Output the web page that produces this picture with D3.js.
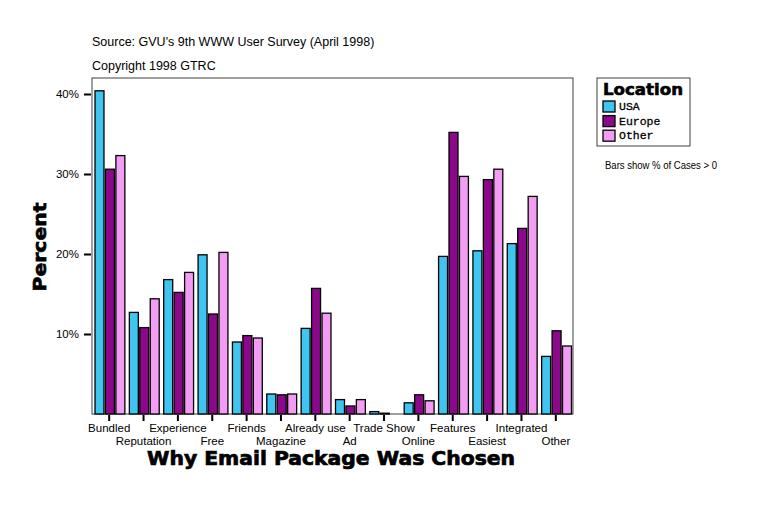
<!DOCTYPE html>
<html>
<head>
<meta charset="utf-8">
<script src="https://cdn.jsdelivr.net/npm/d3@7"></script>
<style>
  body { margin: 0; background: #fff; }
  text { font-family: "Liberation Sans", Arial, sans-serif; }
</style>
</head>
<body>
<script>
// categories along the x axis
var categories = ["Bundled", "Reputation", "Experience", "Free", "Friends", "Magazine",
    "Already use", "Ad", "Trade Show", "Online", "Features", "Easiest", "Integrated", "Other"];

// series (legend order)
var series = ["USA", "Europe", "Other"];

// percent of cases
var usaValues    = [40.4, 12.7, 16.8, 19.9, 9.0, 2.5, 10.7, 1.8, 0.3, 1.4, 19.7, 20.4, 21.3, 7.2];
var europeValues = [30.6, 10.8, 15.2, 12.5, 9.8, 2.4, 15.7, 1.0, 0.1, 2.4, 35.2, 29.3, 23.2, 10.4];
var otherValues  = [32.3, 14.4, 17.7, 20.2, 9.5, 2.5, 12.6, 1.8, 0.0, 1.65, 29.7, 30.6, 27.2, 8.5];

var yTicks = [10, 20, 30, 40];

var colors = ["#40c4f0", "#8b088b", "#f39cf3"];

window.onload = drawChart();

function drawChart(){

    var width = 760,
        height = 506;

    var left = 92, right = 573, top = 78, bottom = 414;

    var svg = d3.select("body")
        .append("svg")
        .attr("width", width)
        .attr("height", height);

    //source lines
    svg.append("text").attr("x", 92).attr("y", 46)
        .style("font-size", "12.5px")
        .text("Source: GVU's 9th WWW User Survey (April 1998)");
    svg.append("text").attr("x", 92).attr("y", 70)
        .style("font-size", "12.5px")
        .text("Copyright 1998 GTRC");

    //scales
    var x0 = d3.scaleBand()
        .domain(categories)
        .range([left, right]);

    var x1 = d3.scaleBand()
        .domain(series)
        .range([3, x0.bandwidth() - 1.5])
        .paddingInner(0.14);

    var y = d3.scaleLinear()
        .domain([0, 42])
        .range([bottom, top]);

    var color = d3.scaleOrdinal()
        .domain(series)
        .range(colors);

    var rows = categories.map(function(c, i){
        return { cat: c, values: [usaValues[i], europeValues[i], otherValues[i]] };
    });

    //frame
    svg.append("rect")
        .attr("x", left).attr("y", top)
        .attr("width", right - left).attr("height", bottom - top)
        .attr("fill", "#fff")
        .attr("stroke", "#404040")
        .attr("stroke-width", 1);

    //bars
    var groups = svg.selectAll(".group")
        .data(rows)
        .enter()
        .append("g")
        .attr("class", "group")
        .attr("transform", function(d){ return "translate(" + x0(d.cat) + ",0)"; });

    groups.selectAll("rect")
        .data(function(d){
            return d.values.map(function(v, j){ return { s: series[j], v: v }; });
        })
        .enter()
        .filter(function(d){ return d.v > 0; })
        .append("rect")
        .attr("x", function(d){ return x1(d.s); })
        .attr("y", function(d){ return y(d.v); })
        .attr("width", x1.bandwidth())
        .attr("height", function(d){ return bottom - y(d.v); })
        .attr("fill", function(d){ return color(d.s); })
        .attr("stroke", "#000")
        .attr("stroke-width", 1.3);

    //y axis ticks
    var yAxis = d3.axisLeft(y)
        .tickValues(yTicks)
        .tickSize(7)
        .tickPadding(5)
        .tickFormat(function(d){ return d + "%"; });

    var gy = svg.append("g")
        .attr("transform", "translate(" + (left - 1) + ",0)")
        .call(yAxis);
    gy.select(".domain").remove();
    gy.selectAll(".tick line").attr("stroke", "#000").attr("stroke-width", 2);
    gy.selectAll(".tick text")
        .style("font-family", "'Liberation Sans', Arial, sans-serif")
        .style("font-size", "11.5px")
        .attr("fill", "#000");

    //x axis ticks, labels staggered on two rows
    var xAxis = d3.axisBottom(x0)
        .tickSize(6)
        .tickSizeOuter(0);

    var gx = svg.append("g")
        .attr("transform", "translate(0," + (bottom + 1) + ")")
        .call(xAxis);
    gx.select(".domain").remove();
    gx.selectAll(".tick line").attr("stroke", "#000").attr("stroke-width", 2);
    gx.selectAll(".tick text")
        .style("font-family", "'Liberation Sans', Arial, sans-serif")
        .style("font-size", "11.5px")
        .attr("fill", "#000")
        .attr("dy", null)
        .attr("y", function(d, i){ return i % 2 === 0 ? 17 : 30; });

    //axis titles, heavy weight
    svg.append("text")
        .attr("x", 331).attr("y", 465)
        .attr("text-anchor", "middle")
        .attr("textLength", 368)
        .attr("lengthAdjust", "spacingAndGlyphs")
        .attr("stroke", "#000")
        .attr("stroke-width", 0.7)
        .style("font-family", "'DejaVu Sans', sans-serif")
        .style("font-weight", "bold")
        .style("font-size", "19px")
        .text("Why Email Package Was Chosen");

    svg.append("text")
        .attr("transform", "translate(46,247) rotate(-90)")
        .attr("text-anchor", "middle")
        .attr("textLength", 89)
        .attr("lengthAdjust", "spacingAndGlyphs")
        .attr("stroke", "#000")
        .attr("stroke-width", 0.7)
        .style("font-family", "'DejaVu Sans', sans-serif")
        .style("font-weight", "bold")
        .style("font-size", "18px")
        .text("Percent");

    //legend
    var legend = svg.append("g");
    legend.append("rect")
        .attr("x", 597).attr("y", 78)
        .attr("width", 93).attr("height", 68)
        .attr("fill", "#fff")
        .attr("stroke", "#404040")
        .attr("stroke-width", 1);
    legend.append("text")
        .attr("x", 603).attr("y", 95)
        .attr("textLength", 80)
        .attr("lengthAdjust", "spacingAndGlyphs")
        .attr("stroke", "#000")
        .attr("stroke-width", 0.6)
        .style("font-family", "'DejaVu Sans', sans-serif")
        .style("font-weight", "bold")
        .style("font-size", "15px")
        .text("Location");

    var items = legend.selectAll(".item")
        .data(series)
        .enter()
        .append("g")
        .attr("class", "item")
        .attr("transform", function(d, i){ return "translate(603," + (101 + i * 14.6) + ")"; });
    items.append("rect")
        .attr("width", 12).attr("height", 11)
        .attr("fill", function(d){ return color(d); })
        .attr("stroke", "#000")
        .attr("stroke-width", 1.3);
    items.append("text")
        .attr("x", 16).attr("y", 9)
        .attr("stroke", "#000")
        .attr("stroke-width", 0.3)
        .style("font-family", "'Liberation Mono', 'Courier New', monospace")
        .style("font-size", "11.5px")
        .text(function(d){ return d; });

    svg.append("text")
        .attr("x", 605).attr("y", 169)
        .style("font-size", "10px")
        .attr("textLength", 112)
        .attr("lengthAdjust", "spacingAndGlyphs")
        .text("Bars show % of Cases > 0");
}
</script>
</body>
</html>
